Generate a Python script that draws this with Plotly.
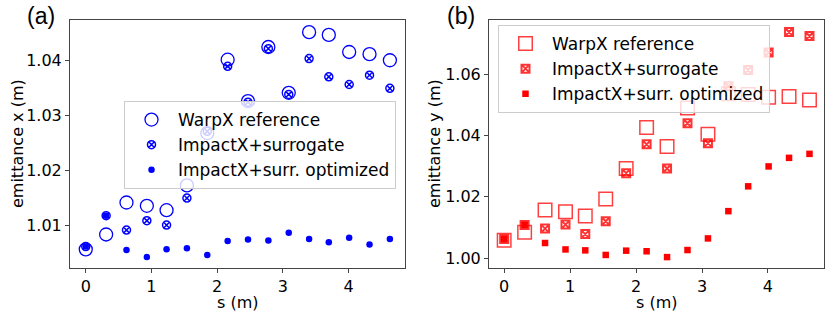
import plotly.graph_objects as go

s = [0.0, 0.31, 0.62, 0.93, 1.23, 1.54, 1.85, 2.16, 2.47, 2.78, 3.09, 3.40, 3.70, 4.01, 4.32, 4.63]

# Panel (a): emittance x
warpx_x = [1.0057, 1.0084, 1.0142, 1.0136, 1.0128, 1.0173, 1.0268, 1.0401, 1.0326, 1.0424,
           1.0341, 1.0451, 1.0446, 1.0415, 1.0411, 1.0400]
surr_x = [1.0062, 1.0118, 1.0092, 1.0109, 1.0101, 1.0150, 1.0271, 1.0389, 1.0324, 1.0421,
          1.0338, 1.0403, 1.0370, 1.0356, 1.0373, 1.0349]
opt_x = [1.0062, 1.0118, 1.0056, 1.0043, 1.0057, 1.0059, 1.0047, 1.0072, 1.0075, 1.0073,
         1.0087, 1.0076, 1.0070, 1.0078, 1.0066, 1.0076]

# Panel (b): emittance y
warpx_y = [1.0058, 1.0084, 1.0157, 1.0151, 1.0137, 1.0193, 1.0292, 1.0426, 1.0364, 1.0490,
           1.0404, 1.0536, 1.0534, 1.0525, 1.0527, 1.0516]
surr_y = [1.0062, 1.0108, 1.0096, 1.0109, 1.0078, 1.0120, 1.0277, 1.0371, 1.0292, 1.0440,
          1.0375, 1.0561, 1.0614, 1.0671, 1.0738, 1.0725]
opt_y = [1.0062, 1.0108, 1.0049, 1.0028, 1.0025, 1.0010, 1.0024, 1.0022, 1.0003, 1.0026,
         1.0064, 1.0153, 1.0234, 1.0299, 1.0327, 1.0340]

names = ["WarpX reference", "ImpactX+surrogate", "ImpactX+surr. optimized"]
x_ticks = [0, 1, 2, 3, 4]
ya_ticks = [1.01, 1.02, 1.03, 1.04]
yb_ticks = [1.00, 1.02, 1.04, 1.06]

BLUE = "#0000ff"
RED = "#ff0000"
FONT = "DejaVu Sans"

fig = go.Figure()

# Panel (a)
fig.add_trace(go.Scatter(x=s, y=warpx_x, mode="markers", name=names[0], legend="legend",
                         marker=dict(symbol="circle-open", size=13, color=BLUE, line=dict(width=1.3)),
                         xaxis="x", yaxis="y"))
fig.add_trace(go.Scatter(x=s, y=surr_x, mode="markers", name=names[1], legend="legend",
                         marker=dict(symbol="circle-x-open", size=8, color=BLUE, line=dict(width=1.5)),
                         xaxis="x", yaxis="y"))
fig.add_trace(go.Scatter(x=s, y=opt_x, mode="markers", name=names[2], legend="legend",
                         marker=dict(symbol="circle", size=6.5, color=BLUE),
                         xaxis="x", yaxis="y"))

# Panel (b)
fig.add_trace(go.Scatter(x=s, y=warpx_y, mode="markers", name=names[0], legend="legend2",
                         marker=dict(symbol="square-open", size=13.5, color="rgba(255,0,0,0.75)", line=dict(width=1.5)),
                         xaxis="x2", yaxis="y2"))
fig.add_trace(go.Scatter(x=s, y=surr_y, mode="markers", name=names[1], legend="legend2",
                         marker=dict(symbol="square-x-open", size=8, color="rgba(255,0,0,0.8)", line=dict(width=2)),
                         xaxis="x2", yaxis="y2"))
fig.add_trace(go.Scatter(x=s, y=opt_y, mode="markers", name=names[2], legend="legend2",
                         marker=dict(symbol="square", size=6.5, color=RED),
                         xaxis="x2", yaxis="y2"))

axis_common = dict(showgrid=False, zeroline=False, showline=True, linecolor="#444", linewidth=1,
                   mirror=True, ticks="outside", ticklen=4, tickwidth=1, tickcolor="#444",
                   automargin=False,
                   tickfont=dict(family=FONT, size=16, color="black"))

ydom = [1 - 268 / 316, 1 - 20 / 316]

fig.update_layout(
    width=830, height=316,
    margin=dict(l=0, r=0, t=0, b=0, autoexpand=False),
    paper_bgcolor="white", plot_bgcolor="white",
    font=dict(family=FONT, size=16, color="black"),
    xaxis=dict(domain=[70 / 830, 405 / 830], range=[-0.24, 4.86], tickvals=x_ticks, anchor="y", **axis_common),
    yaxis=dict(domain=ydom, range=[1.00232, 1.0473], tickvals=ya_ticks, tickformat=".2f", anchor="x", **axis_common),
    xaxis2=dict(domain=[489 / 830, 824 / 830], range=[-0.23, 4.85], tickvals=x_ticks, anchor="y2", **axis_common),
    yaxis2=dict(domain=ydom, range=[0.99674, 1.0777], tickvals=yb_ticks, tickformat=".2f", anchor="x2", **axis_common),
    legend=dict(x=124 / 830, y=1 - 101 / 316, xanchor="left", yanchor="top",
                bgcolor="rgba(255,255,255,0.8)", bordercolor="#cccccc", borderwidth=1,
                font=dict(family=FONT, size=17, color="black"), itemwidth=43, tracegroupgap=0),
    legend2=dict(x=498 / 830, y=1 - 25 / 316, xanchor="left", yanchor="top",
                 bgcolor="rgba(255,255,255,0.8)", bordercolor="#cccccc", borderwidth=1,
                 font=dict(family=FONT, size=17, color="black"), itemwidth=43, tracegroupgap=0),
    showlegend=True,
)

annotations = [
    dict(text="(a)", x=41 / 830, y=1 - 16 / 316),
    dict(text="(b)", x=461 / 830, y=1 - 16 / 316),
    dict(text="s (m)", x=(70 + 405) / 2 / 830, y=1 - 302 / 316),
    dict(text="s (m)", x=(489 + 824) / 2 / 830, y=1 - 302 / 316),
    dict(text="emittance x (m)", x=17 / 830, y=1 - 144 / 316, textangle=-90),
    dict(text="emittance y (m)", x=434 / 830, y=1 - 144 / 316, textangle=-90),
]
for i, a in enumerate(annotations):
    a.update(xref="paper", yref="paper", showarrow=False, xanchor="center", yanchor="middle",
             font=dict(family="Liberation Sans" if i < 2 else FONT, size=23 if i < 2 else 16, color="black"))
fig.update_layout(annotations=annotations)

fig.write_html("out.html", config={"displayModeBar": False},
               post_script="document.body.style.margin='0';document.body.style.overflow='hidden';")
